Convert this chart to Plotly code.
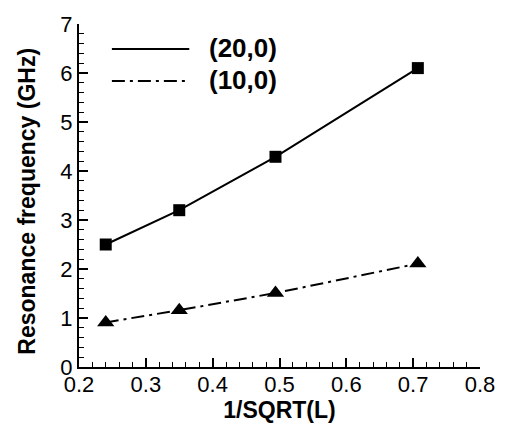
import plotly.graph_objects as go

x_vals = [0.24, 0.35, 0.494, 0.707]
y_20_0 = [2.5, 3.2, 4.29, 6.1]
y_10_0 = [0.91, 1.16, 1.51, 2.11]
series_names = ["(20,0)", "(10,0)"]
x_title = "1/SQRT(L)"
y_title = "Resonance frequency (GHz)"

FONT = "Liberation Sans, Arial, Helvetica, sans-serif"
DASHDOT = "13px,5px,3px,5px"

fig = go.Figure()
fig.add_trace(go.Scatter(x=x_vals, y=y_20_0, mode="lines+markers",
                         line=dict(color="black", width=2),
                         marker=dict(symbol="square", size=12, color="black"),
                         showlegend=False, name=series_names[0]))
fig.add_trace(go.Scatter(x=x_vals, y=y_10_0, mode="lines+markers",
                         line=dict(color="black", width=2, dash=DASHDOT),
                         marker=dict(symbol="triangle-up", size=15, color="black"),
                         showlegend=False, name=series_names[1]))

# manual legend
leg_y = [0.927, 0.834]
dashes = ["solid", DASHDOT]
for name, ly, d in zip(series_names, leg_y, dashes):
    fig.add_shape(type="line", xref="paper", yref="paper", x0=0.082, x1=0.275,
                  y0=ly, y1=ly, line=dict(color="black", width=2, dash=d))
    fig.add_annotation(xref="paper", yref="paper", x=0.318, y=ly + 0.004, text="<b>%s</b>" % name,
                       showarrow=False, xanchor="left", yanchor="middle",
                       font=dict(family=FONT, size=26, color="black"))

# y axis title
fig.add_annotation(xref="paper", yref="paper", x=0, y=0.482, xshift=-52, textangle=-90,
                   text="<b>%s</b>" % y_title, showarrow=False, xanchor="center", yanchor="middle",
                   font=dict(family=FONT, size=23, color="black"))

axis_common = dict(showline=True, linecolor="black", linewidth=2, showgrid=False, zeroline=False,
                   ticks="inside", ticklen=9, tickwidth=2, tickcolor="black",
                   tickfont=dict(family=FONT, size=22, color="black"), mirror=False)

fig.update_xaxes(range=[0.2, 0.8], dtick=0.1, tick0=0.2, tickformat=".1f",
                 minor=dict(ticks="inside", ticklen=5, tickwidth=1, dtick=0.02, tick0=0.2, tickcolor="black"),
                 title=dict(text="<b>%s</b>" % x_title, font=dict(family=FONT, size=23, color="black"), standoff=0),
                 ticklabelstandoff=-3,
                 **axis_common)
fig.update_yaxes(range=[0, 7], dtick=1, tick0=0,
                 minor=dict(ticks="inside", ticklen=5, tickwidth=1, dtick=0.2, tick0=0, tickcolor="black"),
                 **axis_common)

fig.update_layout(width=507, height=426, margin=dict(l=79, r=24, t=14, b=57),
                  paper_bgcolor="white", plot_bgcolor="white", showlegend=False)

fig.write_html("out.html")
